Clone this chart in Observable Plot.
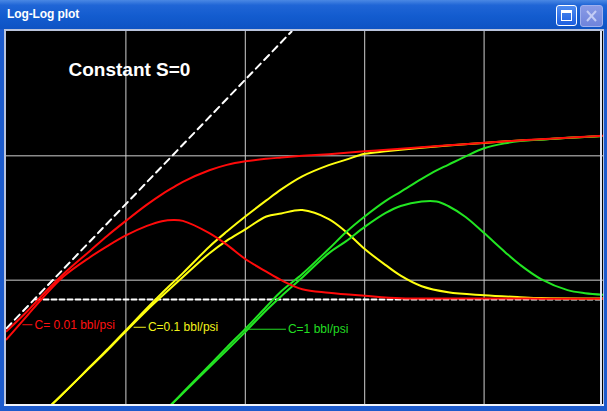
<!DOCTYPE html>
<html>
<head>
<meta charset="utf-8">
<script src="https://cdn.jsdelivr.net/npm/d3@7"></script>
<script src="https://cdn.jsdelivr.net/npm/@observablehq/plot@0.6"></script>
<style>
  html, body { margin: 0; padding: 0; background: #ffffff; }
  #win { position: relative; width: 607px; height: 411px; background: #1d5bcc; overflow: hidden; font-family: "Liberation Sans", Arial, sans-serif; }
  #titlebar { position: absolute; left: 0; top: 0; width: 607px; height: 29px;
    background: linear-gradient(#4a88e4 0%, #1f65d6 18%, #135ccf 55%, #0e53c4 100%); }
  #title { position: absolute; left: 7px; top: 7px; color: #fff; font: bold 12px "Liberation Sans", Arial, sans-serif; letter-spacing: -0.1px; }
  #maxbtn { position: absolute; left: 556px; top: 5px; width: 19px; height: 19px; border: 1px solid #fff; border-radius: 3px;
    background: linear-gradient(#4f8cf0, #1d5fe0); }
  #maxbtn .ico { position: absolute; left: 4px; top: 4px; width: 9px; height: 7px; border: 1px solid #fff; border-top-width: 3px; }
  #closebtn { position: absolute; left: 580px; top: 5px; width: 21px; height: 20px; border: 1px solid #9fb0ee; border-radius: 3px;
    background: linear-gradient(#8a9be6, #6f84dc); }
  #frame { position: absolute; left: 4px; top: 29px; width: 600px; height: 377px; background: #b9c3dc; }
  #frame .bottom { position: absolute; left: 0; bottom: 0; width: 600px; height: 2px; background: #f2f4fa; }
  #chart { position: absolute; left: 6px; top: 31px; width: 597px; height: 373px; background: #000; }
  #rightedge { position: absolute; left: 600px; top: 31px; width: 2px; height: 375px; background: #dfe4f2; }
</style>
</head>
<body>
<div id="win">
  <div id="titlebar"></div>
  <div id="title">Log-Log plot</div>
  <div id="maxbtn"><div class="ico"></div></div>
  <div id="closebtn">
    <svg width="21" height="20" style="position:absolute;left:0;top:0">
      <line x1="6" y1="5" x2="15" y2="15" stroke="#c3ccf5" stroke-width="2"/>
      <line x1="15" y1="5" x2="6" y2="15" stroke="#c3ccf5" stroke-width="2"/>
    </svg>
  </div>
  <div id="frame"><div class="bottom"></div></div>
  <div id="chart"></div>
  <div id="rightedge"></div>
</div>
<script>
// ---- Data (time in hr, Δp and derivative in psi) ----
const xGridTicks = [0.01, 0.1, 1, 10];
const yGridTicks = [1, 10];

// unit-slope (wellbore storage) reference line
const unitSlopeT = [0.001, 0.244];
const unitSlopeP = [0.41, 100];
// radial flow stabilization reference line
const radialT = [0.00175, 100];
const radialP = [0.70, 0.70];

// C = 0.01 bbl/psi (red)
const redT = [0.001, 0.0015, 0.002, 0.003, 0.005, 0.007, 0.01, 0.015, 0.02, 0.025, 0.03, 0.05, 0.07, 0.1, 0.15, 0.2, 0.3, 0.5, 1, 2, 5, 10, 30, 100];
const redPressure = [0.388, 0.565, 0.76, 1.12, 1.72, 2.28, 3.00, 4.05, 4.90, 5.58, 6.18, 7.65, 8.46, 9.03, 9.46, 9.69, 10.0, 10.32, 10.87, 11.39, 12.15, 12.73, 13.62, 14.50];
const redDerivative = [0.334, 0.522, 0.716, 1.07, 1.53, 1.88, 2.29, 2.73, 2.98, 3.05, 3.00, 2.39, 1.93, 1.48, 1.17, 1.00, 0.846, 0.793, 0.750, 0.716, 0.712, 0.712, 0.710, 0.709];

// C = 0.1 bbl/psi (yellow)
const yellowT = [0.0024, 0.003, 0.005, 0.007, 0.01, 0.015, 0.02, 0.03, 0.05, 0.07, 0.1, 0.15, 0.2, 0.3, 0.5, 0.7, 1, 1.5, 2, 3, 5, 10, 20, 30, 100];
const yellowPressure = [0.1, 0.123, 0.201, 0.278, 0.395, 0.595, 0.786, 1.14, 1.86, 2.46, 3.25, 4.38, 5.37, 6.83, 8.41, 9.32, 10.38, 10.87, 11.18, 11.60, 12.10, 12.70, 13.30, 13.55, 14.45];
const yellowDerivative = [0.1, 0.123, 0.199, 0.273, 0.388, 0.573, 0.743, 1.06, 1.64, 2.08, 2.56, 3.25, 3.44, 3.66, 3.10, 2.44, 1.78, 1.32, 1.087, 0.894, 0.800, 0.757, 0.730, 0.718, 0.712];

// C = 1 bbl/psi (green)
const greenT = [0.024, 0.03, 0.05, 0.07, 0.1, 0.15, 0.2, 0.3, 0.5, 0.7, 1, 1.5, 2, 3, 4, 5, 7, 10, 15, 20, 30, 50, 70, 100];
const greenPressure = [0.1, 0.125, 0.206, 0.288, 0.406, 0.611, 0.815, 1.12, 1.78, 2.44, 3.25, 4.34, 5.13, 6.53, 7.64, 8.46, 9.9, 11.5, 12.61, 13.14, 13.5, 13.95, 14.2, 14.45];
const greenDerivative = [0.1, 0.123, 0.199, 0.273, 0.384, 0.573, 0.743, 1.05, 1.65, 2.06, 2.68, 3.47, 3.95, 4.30, 4.30, 3.95, 3.22, 2.39, 1.68, 1.33, 1.02, 0.831, 0.786, 0.764];

// curve labels
const labelText = ["C= 0.01 bbl/psi", "C=0.1 bbl/psi", "C=1 bbl/psi"];
const labelT1 = [0.00136, 0.0116, 0.101];
const labelT2 = [0.00165, 0.0147, 0.219];
const labelP = [0.438, 0.418, 0.403];
const labelColor = ["#ff1010", "#f2f21a", "#22dd22"];

const annotation = "Constant S=0";

// ---- Build tables ----
const rows = (t, v) => t.map((d, i) => ({t: d, v: v[i]}));
const labels = labelText.map((s, i) => ({text: s, t1: labelT1[i], t2: labelT2[i], p: labelP[i], color: labelColor[i]}));

const RED = "#ff0a0a", YELLOW = "#ffff10", GREEN = "#22e622";
const lineOpts = (stroke) => ({x: "t", y: "v", stroke, strokeWidth: 2, curve: "catmull-rom", clip: true});

const chart = Plot.plot({
  width: 597,
  height: 373,
  margin: 0,
  x: {type: "log", domain: [1e-3, 1e2], axis: null},
  y: {type: "log", domain: [0.1, 100], axis: null},
  color: {type: "identity"},
  style: {background: "black", overflow: "hidden"},
  marks: [
    Plot.ruleX(xGridTicks, {stroke: "#cfcfcf", strokeWidth: 1, strokeOpacity: 1}),
    Plot.ruleY(yGridTicks, {stroke: "#cfcfcf", strokeWidth: 1, strokeOpacity: 1}),
    Plot.line(rows(unitSlopeT, unitSlopeP), {x: "t", y: "v", stroke: "white", strokeWidth: 2, strokeDasharray: "7,5", clip: true}),
    Plot.line(rows(radialT, radialP), {x: "t", y: "v", stroke: "white", strokeWidth: 2, strokeDasharray: "5,3", clip: true}),
    Plot.line(rows(yellowT, yellowPressure), lineOpts(YELLOW)),
    Plot.line(rows(yellowT, yellowDerivative), lineOpts(YELLOW)),
    Plot.line(rows(greenT, greenPressure), lineOpts(GREEN)),
    Plot.line(rows(greenT, greenDerivative), lineOpts(GREEN)),
    Plot.line(rows(redT, redPressure), lineOpts(RED)),
    Plot.line(rows(redT, redDerivative), lineOpts(RED)),
    Plot.link(labels, {x1: "t1", x2: "t2", y1: "p", y2: "p", stroke: "color", strokeWidth: 1}),
    Plot.text(labels, {x: "t2", y: "p", text: "text", fill: "color", dx: 2, textAnchor: "start",
      fontSize: 12, fontFamily: "Liberation Sans, Arial, sans-serif"}),
    Plot.text([annotation], {frameAnchor: "top-left", dx: 62, dy: 31, text: d => d, fill: "white",
      fontSize: 19, fontWeight: "bold", fontFamily: "Liberation Sans, Arial, sans-serif",
      textAnchor: "start", lineAnchor: "top"})
  ]
});
document.getElementById("chart").appendChild(chart);
</script>
</body>
</html>
